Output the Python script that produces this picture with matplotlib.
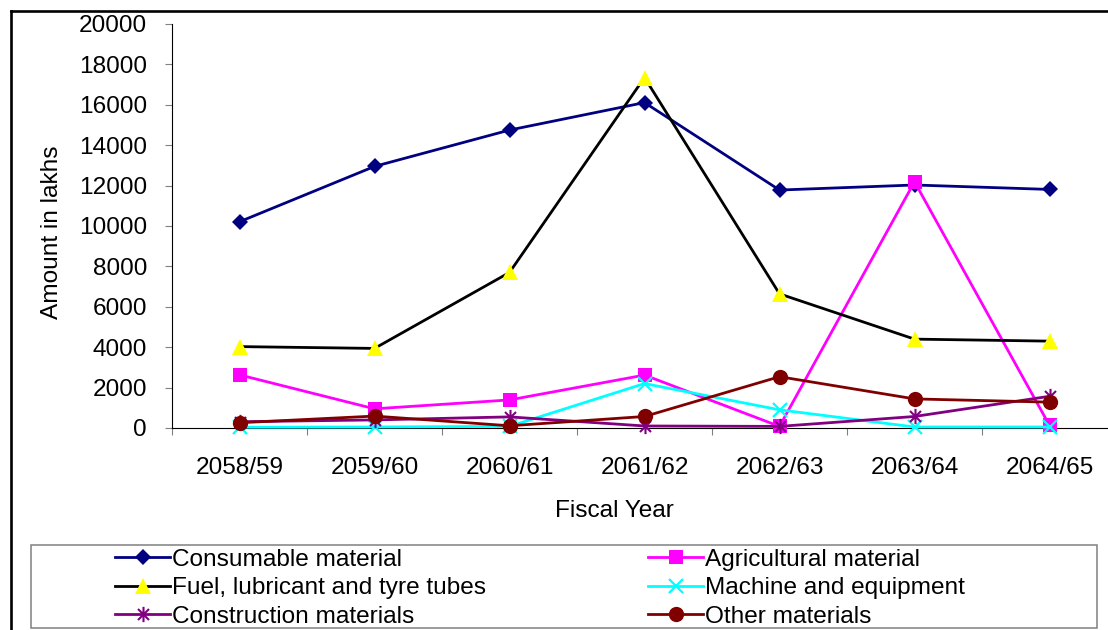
import numpy as np
import matplotlib
matplotlib.use("Agg")
import matplotlib.pyplot as plt
from matplotlib.path import Path
from matplotlib.lines import Line2D
from matplotlib.patches import Rectangle

plt.rcParams['font.family'] = ['Liberation Sans', 'DejaVu Sans']

years = ['2058/59', '2059/60', '2060/61', '2061/62', '2062/63', '2063/64', '2064/65']
consumable = [10210, 12950, 14750, 16110, 11780, 12030, 11810]
agricultural = [2630, 950, 1390, 2620, 80, 12190, 130]
fuel = [4030, 3940, 7700, 17350, 6640, 4400, 4300]
machine = [40, 50, 80, 2200, 900, 50, 50]
construction = [310, 400, 550, 100, 80, 570, 1570]
other = [260, 590, 110, 570, 2540, 1440, 1280]

y_ticks = list(range(0, 20001, 2000))

W, H = 1108, 630
FS = 17.6

# Excel-style asterisk: an X with a vertical bar through it
a = 0.72
star = Path([(0, -1), (0, 1), (-a, -a), (a, a), (-a, a), (a, -a)],
            [Path.MOVETO, Path.LINETO, Path.MOVETO, Path.LINETO, Path.MOVETO, Path.LINETO])

fig = plt.figure(figsize=(W / 100, H / 100), dpi=100)
ax = fig.add_axes([172 / W, (H - 428) / H, 945 / W, 404 / H])

x = np.arange(len(years))
lw = 2.0
series = [
    ("Consumable material", consumable, dict(color='#000080', marker='D', ms=8.6,
                                             mfc='#000080', mec='#000080', mew=0)),
    ("Agricultural material", agricultural, dict(color='#FF00FF', marker='s', ms=10.5,
                                                 mfc='#FF00FF', mec='#FF00FF', mew=0)),
    ("Fuel, lubricant and tyre tubes", fuel, dict(color='#000000', marker='^', ms=11.5,
                                                  mfc='#FFFF00', mec='#FFFF00', mew=0)),
    ("Machine and equipment", machine, dict(color='#00FFFF', marker='x', ms=9.5,
                                            mfc='#00FFFF', mec='#00FFFF', mew=1.6)),
    ("Construction materials", construction, dict(color='#800080', marker=star, ms=11,
                                                  mfc='#800080', mec='#800080', mew=1.5)),
    ("Other materials", other, dict(color='#800000', marker='o', ms=11,
                                    mfc='#800000', mec='#800000', mew=0)),
]

handles = {}
for i, (name, vals, st) in enumerate(series):
    h, = ax.plot(x, vals, lw=lw, label=name, clip_on=False, zorder=3 + i, **st)
    handles[name] = h

ax.set_xlim(-0.5, 6.5)
ax.set_ylim(0, 20000)
ax.set_yticks(y_ticks)
ax.set_yticklabels([str(v) for v in y_ticks], fontsize=FS)
ax.set_xticks(x)
ax.set_xticklabels(years, fontsize=FS)
ax.set_xticks(np.arange(-0.5, 7.0, 1.0), minor=True)
ax.tick_params(axis='x', which='major', length=0, pad=21)
ax.tick_params(axis='x', which='minor', length=5, width=0.8, color='#808080', direction='out')
ax.tick_params(axis='y', which='major', length=5, width=0.8, color='#808080', direction='out', pad=13)

for s in ('top', 'right'):
    ax.spines[s].set_visible(False)
for s in ('left', 'bottom'):
    ax.spines[s].set_linewidth(0.8)
    ax.spines[s].set_color('black')

fig.text(52 / W, 1 - 232 / H, "Amount in lakhs", rotation=90, ha='center', va='center', fontsize=FS)
fig.text(614 / W, 1 - 511 / H, "Fiscal Year", ha='center', va='center', fontsize=FS)

# legend frame
fig.add_artist(Rectangle((31 / W, 1 - 628 / H), (1097 - 31) / W, (628 - 545) / H,
                         transform=fig.transFigure, fill=False, edgecolor='#808080', lw=1.1))

leg_kw = dict(frameon=False, fontsize=FS, handlelength=2.25, handletextpad=0.1,
              borderpad=0, borderaxespad=0, labelspacing=0.26, loc='upper left',
              bbox_transform=fig.transFigure)
col1 = ["Consumable material", "Fuel, lubricant and tyre tubes", "Construction materials"]
col2 = ["Agricultural material", "Machine and equipment", "Other materials"]
leg1 = fig.legend([handles[n] for n in col1], col1, bbox_to_anchor=(115 / W, 1 - 548.5 / H), **leg_kw)
leg2 = fig.legend([handles[n] for n in col2], col2, bbox_to_anchor=(648 / W, 1 - 548.5 / H), **leg_kw)

# outer chart border (left and top edges)
fig.add_artist(Line2D([11 / W, 11 / W], [-0.1, 1 - 11 / H], transform=fig.transFigure,
                      color='black', lw=1.9))
fig.add_artist(Line2D([11 / W, 1.1], [1 - 11 / H, 1 - 11 / H], transform=fig.transFigure,
                      color='black', lw=1.9))

fig.savefig("out.png", dpi=100)
